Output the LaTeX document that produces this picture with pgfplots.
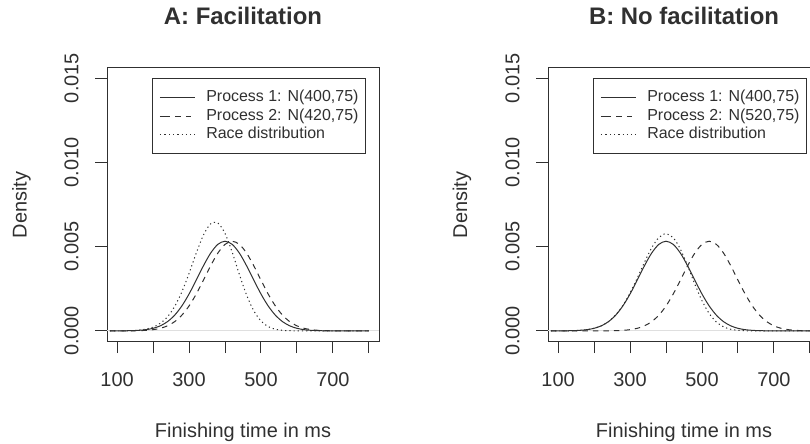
\documentclass[border=0pt]{standalone}
\usepackage{fontspec}
\setmainfont{Liberation Sans}
\usepackage{pgfplots}
\usepackage{pgfplotstable}
\pgfplotsset{compat=1.18}

\definecolor{ink}{HTML}{303030}

% x, process 1, process 2, race (min of the two)
\pgfplotstableread{
x p1 p2 race
80 0.0000006 0.0000002 0.0000008
100 0.0000018 0.0000006 0.0000024
120 0.0000050 0.0000018 0.0000068
140 0.0000131 0.0000050 0.0000181
160 0.0000318 0.0000131 0.0000449
180 0.0000720 0.0000318 0.0001037
200 0.0001519 0.0000720 0.0002233
220 0.0002986 0.0001519 0.0004482
240 0.0005465 0.0002986 0.0008357
260 0.0009316 0.0005465 0.0014459
280 0.0014789 0.0009316 0.0023136
300 0.0021868 0.0014789 0.0034110
320 0.0030115 0.0021868 0.0046108
340 0.0038626 0.0030115 0.0056835
360 0.0046140 0.0038626 0.0063523
380 0.0051334 0.0046140 0.0064013
400 0.0053192 0.0051334 0.0057856
420 0.0051334 0.0053192 0.0046670
440 0.0046140 0.0051334 0.0033461
460 0.0038626 0.0046140 0.0021243
480 0.0030115 0.0038626 0.0011906
500 0.0021868 0.0030115 0.0005875
520 0.0014789 0.0021868 0.0002547
540 0.0009316 0.0014789 0.0000969
560 0.0005465 0.0009316 0.0000322
580 0.0002986 0.0005465 0.0000094
600 0.0001519 0.0002986 0.0000023
620 0.0000720 0.0001519 0.0000005
640 0.0000318 0.0000720 0
660 0.0000131 0.0000318 0
680 0.0000050 0.0000131 0
700 0.0000018 0.0000050 0
720 0.0000006 0.0000018 0
740 0.0000002 0.0000006 0
760 0 0.0000002 0
780 0 0 0
800 0 0 0
}\facil

\pgfplotstableread{
x p1 p2 race
80 0.0000006 0 0.0000006
100 0.0000018 0 0.0000018
120 0.0000050 0 0.0000050
140 0.0000131 0 0.0000131
160 0.0000318 0 0.0000318
180 0.0000720 0.0000002 0.0000720
200 0.0001519 0.0000006 0.0001525
220 0.0002986 0.0000018 0.0003004
240 0.0005465 0.0000050 0.0005513
260 0.0009316 0.0000131 0.0009441
280 0.0014789 0.0000318 0.0015080
300 0.0021868 0.0000720 0.0022485
320 0.0030115 0.0001519 0.0031301
340 0.0038626 0.0002986 0.0040662
360 0.0046140 0.0005465 0.0049223
380 0.0051334 0.0009316 0.0055381
400 0.0053192 0.0014789 0.0057672
420 0.0051334 0.0021868 0.0055287
440 0.0046140 0.0030115 0.0048480
460 0.0038626 0.0038626 0.0038626
480 0.0030115 0.0046140 0.0027775
500 0.0021868 0.0051334 0.0017915
520 0.0014789 0.0053192 0.0010310
540 0.0009316 0.0051334 0.0005268
560 0.0005465 0.0046140 0.0002382
580 0.0002986 0.0038626 0.0000950
600 0.0001519 0.0030115 0.0000332
620 0.0000720 0.0021868 0.0000103
640 0.0000318 0.0014789 0.0000027
660 0.0000131 0.0009316 0.0000006
680 0.0000050 0.0005465 0
700 0.0000018 0.0002986 0
720 0.0000006 0.0001519 0
740 0.0000002 0.0000720 0
760 0 0.0000318 0
780 0 0.0000131 0
800 0 0.0000050 0
820 0 0.0000018 0
840 0 0.0000006 0
}\nofacil

\pgfplotsset{
  rpanel/.style={
    scale only axis, width=272bp, height=273bp, anchor=south west,
    xmin=72, xmax=828, ymin=-0.0006, ymax=0.0156,
    axis line style={ink, line width=1bp},
    every tick/.style={ink, line width=1bp},
    tick align=outside, major tick length=12bp,
    xtick pos=left, ytick pos=left,
    xtick={100,200,...,800}, xticklabels={100,,300,,500,,700,},
    ytick={0,0.005,0.01,0.015}, yticklabels={0.000,0.005,0.010,0.015},
    scaled y ticks=false,
    ticklabel style={font=\fontsize{20}{24}\selectfont, text=ink},
    yticklabel style={rotate=90, anchor=south},
    xticklabel shift=16bp, yticklabel shift=13bp,
    legend cell align=left,
    legend style={at={(0.952,0.963)}, anchor=north east, draw=ink,
      line width=1bp, fill=white, font=\fontsize{16}{19}\selectfont,
      text=ink, inner xsep=7bp, inner ysep=11bp, row sep=2.5bp,
      column sep=11bp, nodes={inner sep=0pt, text height=12bp, text depth=4bp}},
    legend image code/.code={\path (0bp,0bp) -- (5bp,0bp);
      \draw[##1] (5bp,0bp) -- (35bp,0bp);},
  },
  p1/.style={ink, line width=1bp, smooth},
  p2/.style={ink, line width=1bp, smooth, dash pattern=on 5.5bp off 5bp},
  pr/.style={ink, line width=1bp, smooth, dash pattern=on 1.2bp off 3bp},
}

\begin{document}
\begin{tikzpicture}
\begin{axis}[rpanel, at={(107bp,103bp)}]
  \addplot[gray!25, line width=0.8bp, forget plot] coordinates {(72,0) (828,0)};
  \addplot[p1] table[x=x, y=p1] {\facil};
  \addlegendentry{Process 1: N(400,75)}
  \addplot[p2] table[x=x, y=p2] {\facil};
  \addlegendentry{Process 2: N(420,75)}
  \addplot[pr] table[x=x, y=race] {\facil};
  \addlegendentry{Race distribution}
\end{axis}

\begin{axis}[rpanel, at={(548bp,103bp)}]
  \addplot[gray!25, line width=0.8bp, forget plot] coordinates {(72,0) (828,0)};
  \addplot[p1] table[x=x, y=p1] {\nofacil};
  \addlegendentry{Process 1: N(400,75)}
  \addplot[p2] table[x=x, y=p2] {\nofacil};
  \addlegendentry{Process 2: N(520,75)}
  \addplot[pr] table[x=x, y=race] {\nofacil};
  \addlegendentry{Race distribution}
\end{axis}

\begin{scope}[every node/.style={text=ink, inner sep=0pt}]
  \node[anchor=base, font=\fontsize{24}{29}\selectfont\bfseries] at (243bp,419bp) {A: Facilitation};
  \node[anchor=base, font=\fontsize{24}{29}\selectfont\bfseries] at (684bp,419bp) {B: No facilitation};
  \node[anchor=base, font=\fontsize{20}{24}\selectfont] at (243bp,7bp) {Finishing time in ms};
  \node[anchor=base, font=\fontsize{20}{24}\selectfont] at (684bp,7bp) {Finishing time in ms};
  \node[anchor=base, rotate=90, font=\fontsize{20}{24}\selectfont] at (26.5bp,239bp) {Density};
  \node[anchor=base, rotate=90, font=\fontsize{20}{24}\selectfont] at (467bp,239bp) {Density};
\end{scope}

\pgfresetboundingbox
\path[use as bounding box] (0bp,0bp) rectangle (810bp,444bp);
\end{tikzpicture}
\end{document}
